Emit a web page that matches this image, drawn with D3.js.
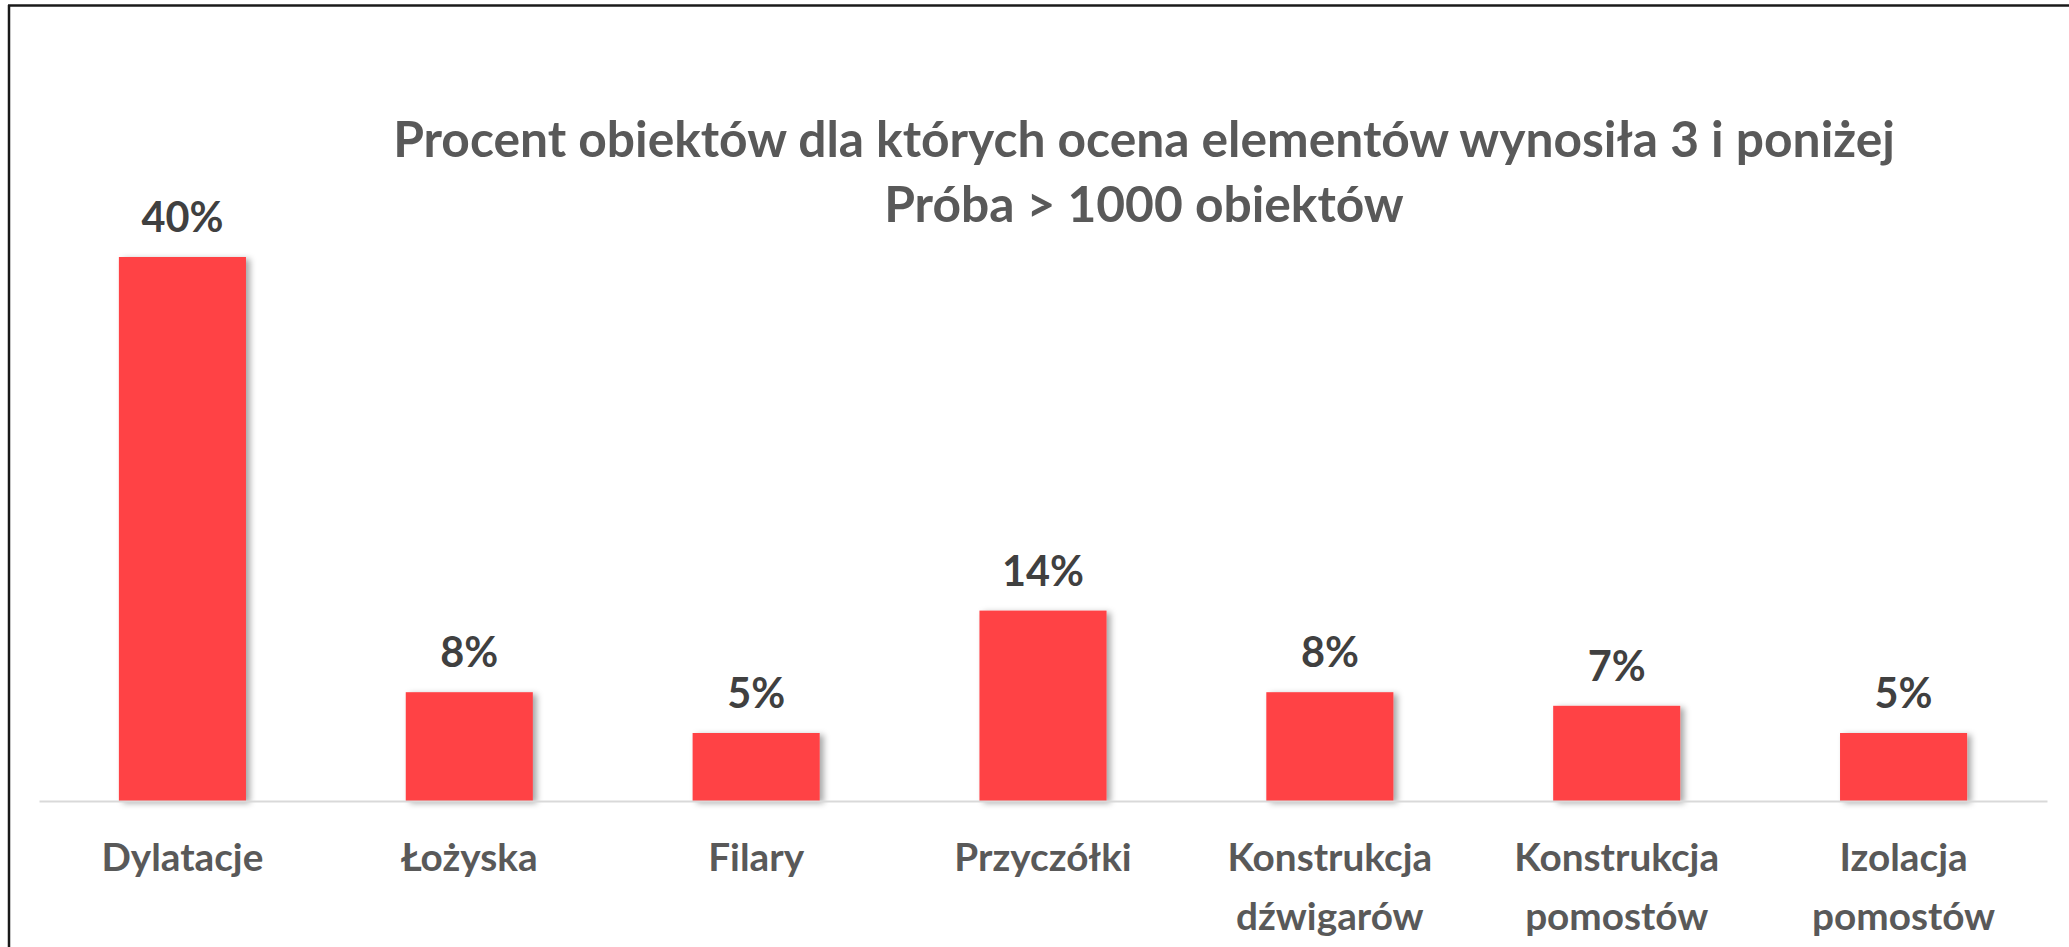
<!DOCTYPE html>
<html>
<head>
<meta charset="utf-8">
<script src="https://cdn.jsdelivr.net/npm/d3@7"></script>
<style>
  html, body { margin: 0; padding: 0; background: #fff; }
  svg { display: block; }
  text { font-family: Lato, "Open Sans", "Liberation Sans", sans-serif; font-weight: bold; }
</style>
</head>
<body>
<svg id="chart" width="2069" height="947"></svg>
<script>
// ---- data ----
const categories = ["Dylatacje", "Łożyska", "Filary", "Przyczółki", "Konstrukcja dźwigarów", "Konstrukcja pomostów", "Izolacja pomostów"];
const values = [0.40, 0.08, 0.05, 0.14, 0.08, 0.07, 0.05];
const titleLines = ["Procent obiektów dla których ocena elementów wynosiła 3 i poniżej", "Próba > 1000 obiektów"];

// ---- layout ----
const W = 2069, H = 947;
const plot = { left: 39, right: 2047, top: 121, bottom: 801 };

const svg = d3.select("#chart");
svg.append("rect").attr("width", W).attr("height", H).attr("fill", "#fff");

const defs = svg.append("defs");
const f = defs.append("filter").attr("id", "shadow")
  .attr("x", "-10%").attr("y", "-10%").attr("width", "130%").attr("height", "130%");
f.append("feDropShadow").attr("dx", 4).attr("dy", 2).attr("stdDeviation", 3)
  .attr("flood-color", "#000").attr("flood-opacity", 0.35);

const x = d3.scaleBand().domain(categories).range([plot.left, plot.right])
  .paddingInner(0.557).paddingOuter(0.2785);
const y = d3.scaleLinear().domain([0, 0.5]).range([plot.bottom, plot.top]);

// bars
svg.append("g").selectAll("rect").data(categories).join("rect")
  .attr("x", d => x(d))
  .attr("width", x.bandwidth())
  .attr("y", (d, i) => y(values[i]))
  .attr("height", (d, i) => y(0) - y(values[i]))
  .attr("fill", "#FF4245")
  .attr("filter", "url(#shadow)");

// axis line
const xAxis = d3.axisBottom(x).tickSize(0).tickFormat("");
const gx = svg.append("g").attr("transform", `translate(0,${plot.bottom})`).call(xAxis);
gx.select(".domain").attr("stroke", "#D9D9D9").attr("stroke-width", 2.2);

// helper: fit font size to width
function fitSize(text, target, base) {
  const t = svg.append("text").attr("font-size", base).text(text);
  const w = t.node().getComputedTextLength();
  t.remove();
  return base * target / w;
}

// value labels
const valSize = fitSize("40%", 82, 40);
svg.append("g").selectAll("text").data(categories).join("text")
  .attr("x", d => x(d) + x.bandwidth() / 2)
  .attr("y", (d, i) => y(values[i]) - 25)
  .attr("text-anchor", "middle")
  .attr("font-size", valSize)
  .attr("fill", "#404040")
  .text((d, i) => d3.format(".0%")(values[i]));

// category labels
const catSize = fitSize("Dylatacje", 162, 40);
const cg = svg.append("g").selectAll("text").data(categories).join("text")
  .attr("text-anchor", "middle")
  .attr("font-size", catSize)
  .attr("fill", "#595959");
cg.each(function(d) {
  const parts = d.split(" ");
  const el = d3.select(this);
  parts.forEach((p, j) => {
    el.append("tspan")
      .attr("x", x(d) + x.bandwidth() / 2)
      .attr("y", 871 + j * 59)
      .text(p);
  });
});

// title
const tSize = fitSize(titleLines[0], 1502, 40);
titleLines.forEach((line, i) => {
  svg.append("text")
    .attr("x", 1144)
    .attr("y", 157 + i * 65)
    .attr("text-anchor", "middle")
    .attr("font-size", tSize)
    .attr("fill", "#595959")
    .text(line);
});

// frame (top and left border)
svg.append("line").attr("x1", 8).attr("x2", W).attr("y1", 5.5).attr("y2", 5.5)
  .attr("stroke", "#1a1a1a").attr("stroke-width", 2.5);
svg.append("line").attr("x1", 9).attr("x2", 9).attr("y1", 5).attr("y2", H)
  .attr("stroke", "#1a1a1a").attr("stroke-width", 2.5);
</script>
</body>
</html>
